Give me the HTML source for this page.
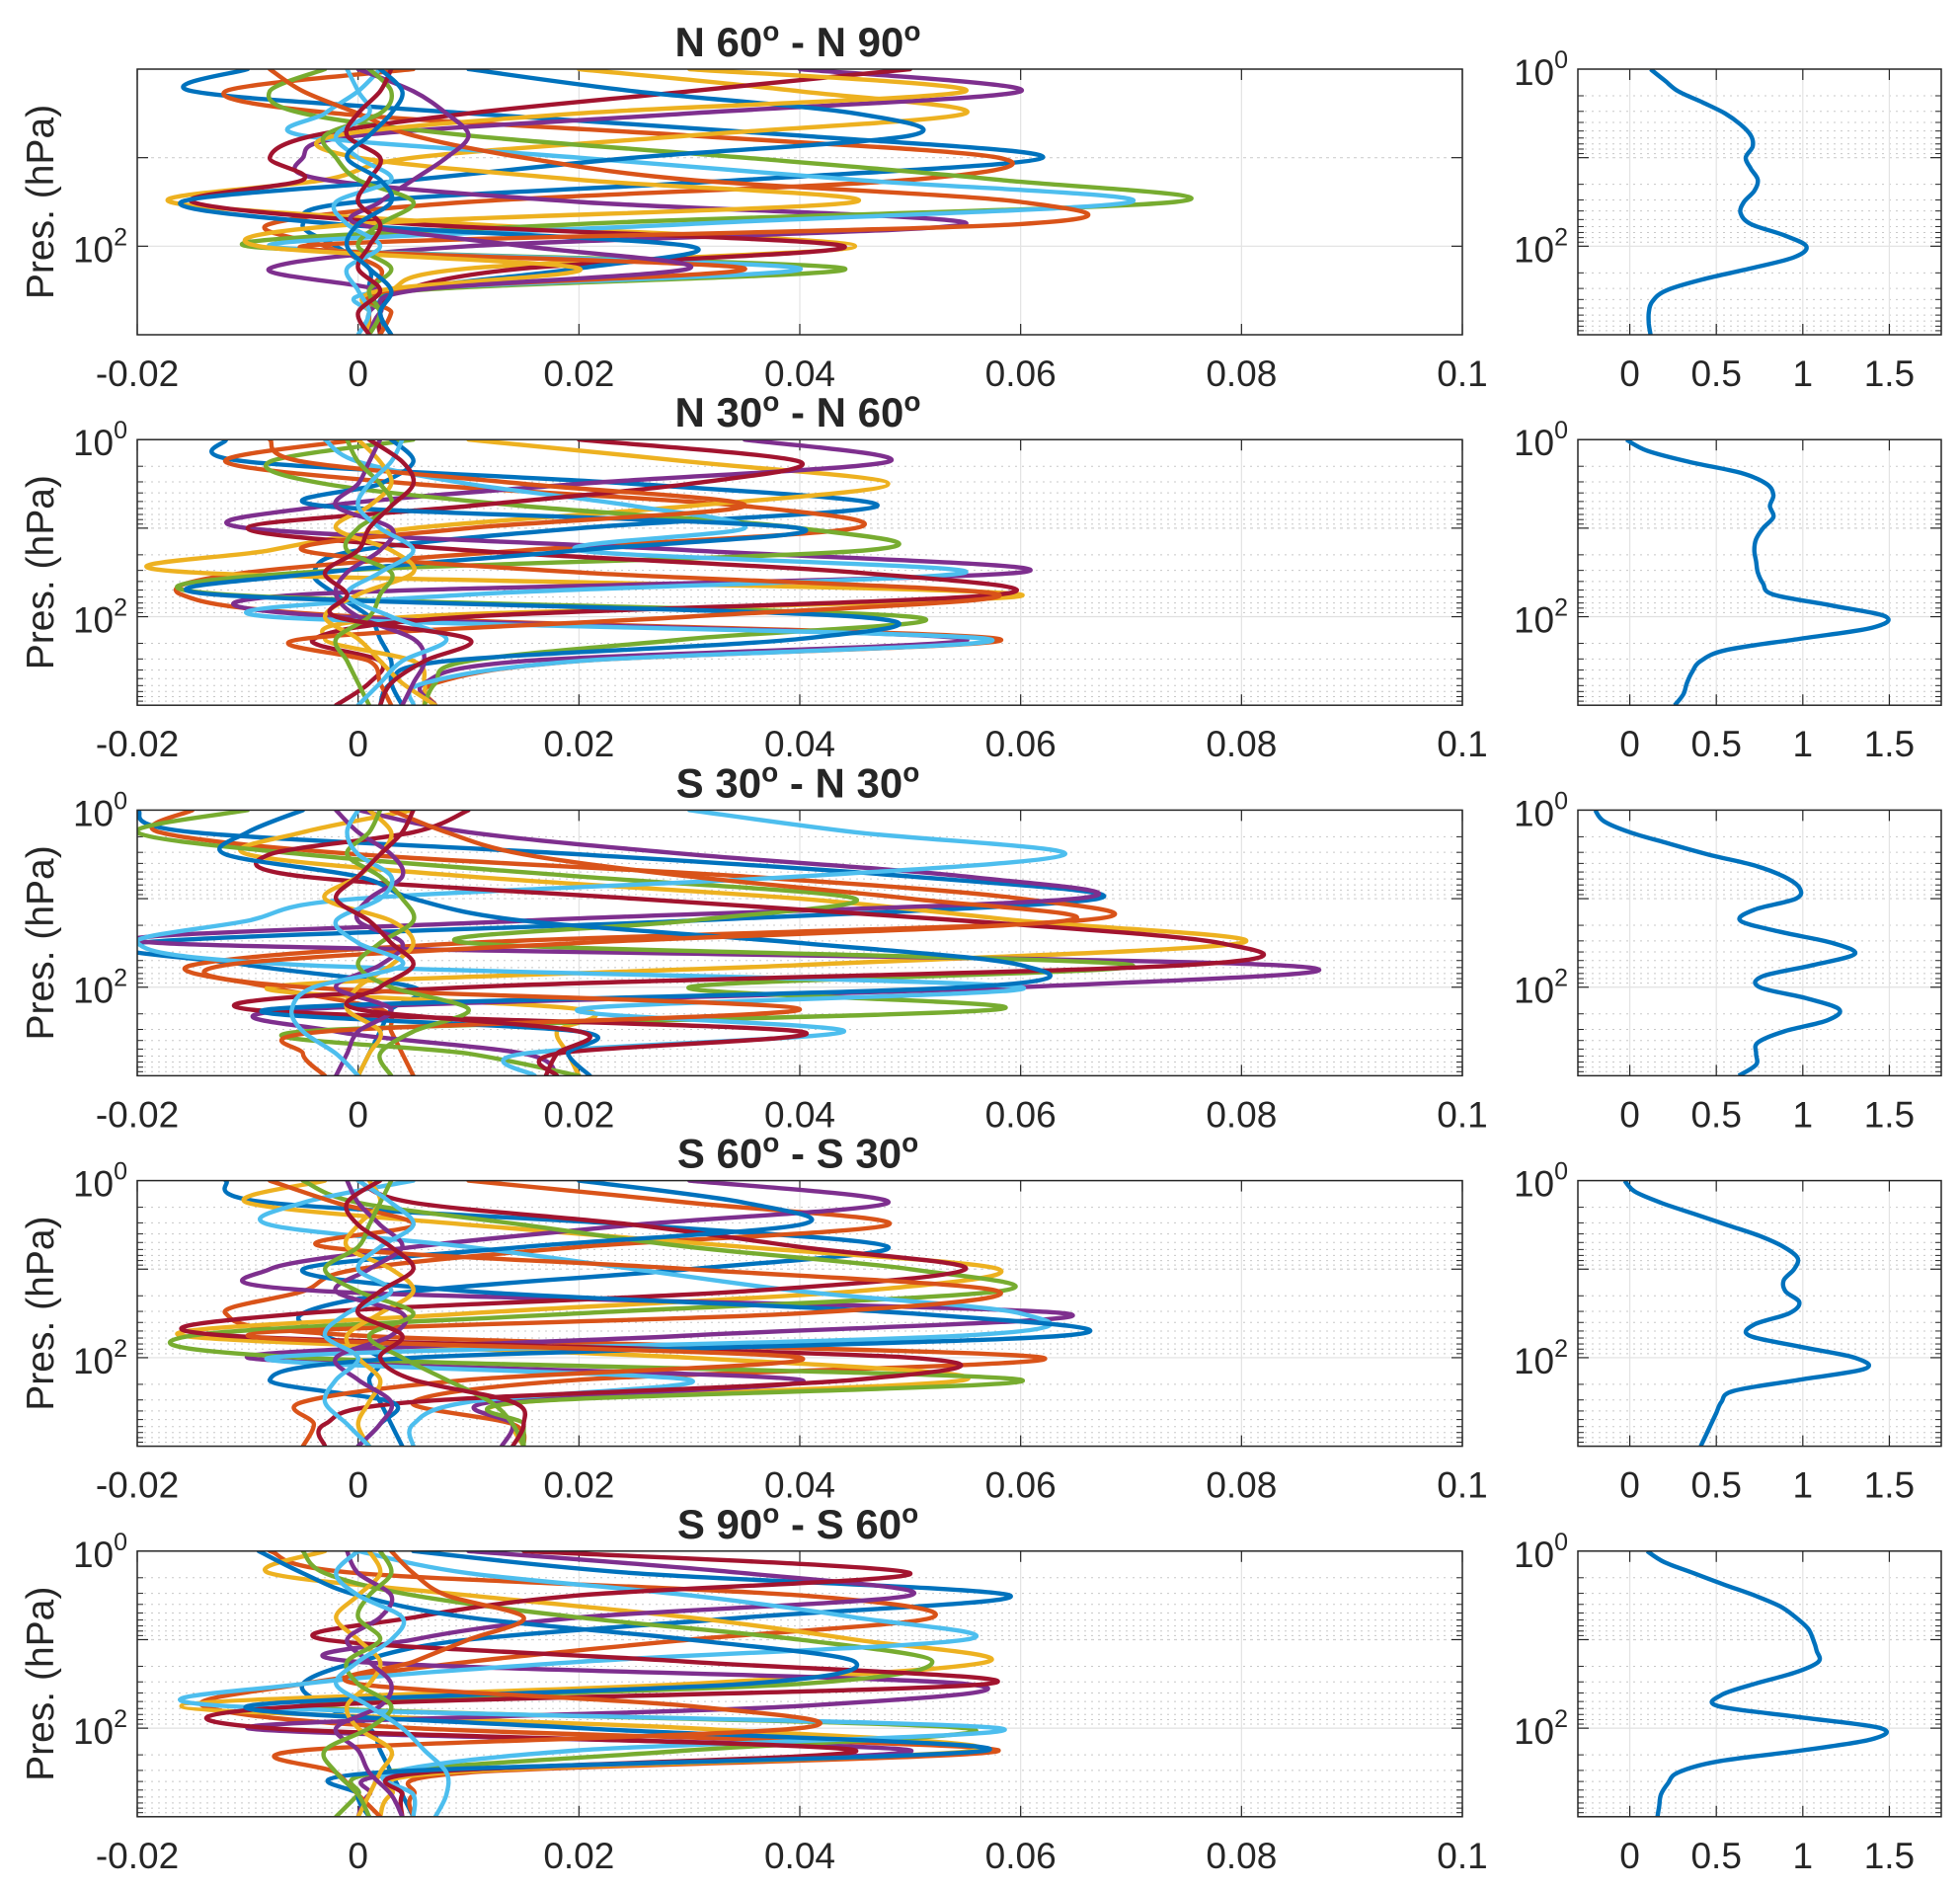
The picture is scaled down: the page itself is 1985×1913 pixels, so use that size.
<!DOCTYPE html>
<html><head><meta charset="utf-8"><title>Profiles</title>
<style>html,body{margin:0;padding:0;background:#fff}svg{display:block}text{font-family:"Liberation Sans",Arial,sans-serif;fill:#262626}</style>
</head><body>
<svg id="fig" width="1985" height="1913" viewBox="0 0 1985 1913" xmlns="http://www.w3.org/2000/svg"></svg>
<script>
// ---------- data ----------
const panelTitles=[["N 60","N 90"],["N 30","N 60"],["S 30","N 30"],["S 60","S 30"],["S 90","S 60"]];
const leftXTicks=[-0.02,0,0.02,0.04,0.06,0.08,0.1];
const leftXTickLabels=["-0.02","0","0.02","0.04","0.06","0.08","0.1"];
const rightXTicks=[0,0.5,1,1.5];
const rightXTickLabels=["0","0.5","1","1.5"];
// log10(pressure hPa) levels for left-panel profiles
const logPLeft=[0,0.25,0.5,0.75,1,1.25,1.5,1.75,2,2.25,2.5,2.75,3];
// profile values in units of 1e-3
const panel1Lines=[
[-10,-15,10,40,62,35,0,-5,-2,1,1,2,2],
[5,-12,-2,30,58,50,10,-8,-3,2,1,1,1],
[20,40,55,30,5,-3,-17,10,45,10,3,2,2],
[40,60,30,0,-5,-3,20,55,10,-8,2,1,1],
[-3,-8,-5,10,35,58,74,20,-10,44,5,2,2],
[2,0,-3,-5,20,45,70,30,-8,40,3,1,1],
[50,30,10,-4,-8,-5,-15,5,44,15,4,2,2],
[10,25,45,50,25,5,-16,-2,30,20,4,2,3],
[-8,-5,0,5,15,30,60,60,-5,35,3,3,2],
[30,55,20,-2,0,20,45,0,-9,20,2,1,1],
[0,5,8,10,8,5,2,0,15,30,5,2,1],
[1,3,2,-3,-2,0,5,2,0,3,1,2,1],
[-1,0,1,-2,0,3,-2,-1,2,-1,0,1,0],
[3,2,0,-1,2,1,0,2,1,0,2,0,1],
[2,4,3,1,-1,2,3,0,-1,1,3,2,3]];
const panel2Lines=[
[-12,-10,25,47,20,0,-4,-2,1,2,3,3,4],
[0,-12,5,35,45,15,-10,-16,0,58,20,7,7],
[10,30,48,30,5,-8,-15,60,5,-3,5,6,6],
[35,48,20,-3,-10,30,60,-5,-2,55,15,6,7],
[5,-8,-3,15,40,46,-5,-12,50,30,10,7,6],
[-3,0,10,25,35,20,55,10,-8,57,20,6,5],
[20,40,30,10,-10,10,45,58,10,-4,2,1,-2],
[3,5,2,-3,40,20,-3,-13,45,40,8,3,2],
[-8,-5,15,35,10,-5,20,58,30,-5,1,2,3],
[0,2,3,1,-2,3,5,0,-3,0,2,4,7],
[2,1,0,-2,3,2,-1,-2,0,5,6,5,4],
[-1,0,2,3,0,-1,3,2,1,-2,-1,0,1],
[4,3,1,0,2,5,2,-1,3,8,4,2,0],
[1,4,5,3,1,0,-3,-1,-2,10,6,3,2]];
const panel3Lines=[
[-20,-15,20,50,67,30,-20,-10,5,3,2,1,0],
[-15,-18,0,35,60,65,10,-15,-8,2,3,4,5],
[5,-5,-10,10,40,60,80,40,-8,20,18,19,20],
[0,10,30,55,65,15,-18,83,60,-5,-2,15,18],
[-10,-20,-5,20,45,30,10,70,30,58,-5,10,20],
[30,45,64,40,0,-10,-20,-5,60,20,44,15,16],
[10,5,-8,-5,25,55,78,75,10,-10,40,18,18],
[-5,-10,-12,0,5,15,40,60,55,-8,20,19,21],
[3,8,15,30,50,64,20,-12,-5,40,-3,-5,-3],
[1,3,2,0,-3,3,5,3,0,-1,2,1,0],
[-2,0,3,4,1,0,4,2,-2,3,0,-1,-2],
[2,1,-1,2,4,5,2,0,3,10,5,2,3],
[0,-1,0,3,2,-2,0,4,-4,-6,-5,-2,0],
[5,4,2,0,-2,1,3,5,2,0,20,18,17]];
const panel4Lines=[
[-12,-8,25,48,30,5,-5,-3,2,1,2,3,4],
[10,30,48,20,0,-5,-12,0,62,20,5,14,15],
[-3,-10,10,35,58,45,10,-16,30,55,15,14,15],
[30,48,25,5,-8,-3,64,30,-10,40,12,14,13],
[-5,0,15,30,50,58,20,-15,-5,60,15,15,15],
[5,-5,-8,10,25,40,60,55,-8,30,10,5,5],
[0,5,25,40,55,35,-5,-12,50,45,5,-3,-3],
[20,35,40,15,-5,10,50,64,5,-8,3,2,0],
[-8,-2,5,-3,30,58,40,-10,40,10,-5,-4,-5],
[1,2,0,-1,3,5,2,-1,0,2,1,0,1],
[-1,0,2,4,1,-2,4,3,-2,0,3,2,0],
[3,2,1,0,-3,0,5,1,4,8,12,14,15],
[0,3,5,2,0,3,-1,-3,0,-2,-3,-1,1],
[2,-1,0,3,5,2,0,4,2,5,14,15,14]];
const panel5Lines=[
[5,25,59,35,10,0,-5,-3,1,2,3,4,5],
[-8,0,40,52,30,10,-5,-14,5,58,10,5,5],
[-3,-8,10,30,45,57,30,-16,30,56,8,3,2],
[10,35,50,20,5,0,55,40,-10,50,5,1,0],
[-5,-3,5,20,40,52,40,-5,55,30,2,0,-2],
[0,10,30,45,55,20,-5,-12,58,20,3,5,5],
[15,50,20,5,-3,30,57,-5,-8,45,6,4,4],
[-9,-5,0,10,30,45,35,-10,20,57,2,0,1],
[3,5,8,15,10,5,0,30,40,-5,-2,0,2],
[1,2,0,-2,0,2,1,-1,0,3,2,1,0],
[-1,0,3,2,-1,1,3,2,-2,0,1,3,4],
[2,3,1,0,2,-1,0,3,1,-3,-2,0,1],
[0,-2,0,4,3,0,-2,1,4,6,8,8,7]];
// right panels: log10(p) levels and values
const logPRight=[0,0.125,0.25,0.375,0.5,0.625,0.75,0.875,1,1.125,1.25,1.375,1.5,1.625,1.75,1.875,2,2.125,2.25,2.375,2.5,2.625,2.75,2.875,3];
const right1=[0.12,0.2,0.28,0.42,0.55,0.64,0.7,0.71,0.67,0.7,0.74,0.72,0.66,0.64,0.7,0.89,1.02,0.95,0.7,0.42,0.21,0.13,0.11,0.11,0.12];
const right2=[-0.02,0.1,0.34,0.64,0.79,0.83,0.81,0.83,0.77,0.73,0.72,0.73,0.74,0.77,0.83,1.17,1.48,1.4,0.98,0.56,0.41,0.36,0.33,0.31,0.26];
const right3=[-0.2,-0.15,0.0,0.22,0.45,0.72,0.89,0.98,0.96,0.72,0.64,0.87,1.17,1.3,1.06,0.77,0.75,1.02,1.21,1.14,0.89,0.74,0.73,0.73,0.63];
const right4=[-0.03,0.03,0.18,0.37,0.56,0.75,0.89,0.97,0.95,0.89,0.9,0.98,0.92,0.72,0.69,0.98,1.3,1.36,0.98,0.6,0.53,0.5,0.47,0.44,0.41];
const right5=[0.1,0.2,0.37,0.54,0.72,0.87,0.96,1.03,1.06,1.08,1.09,0.95,0.72,0.53,0.51,0.98,1.45,1.4,1.0,0.51,0.28,0.22,0.18,0.17,0.16];
const leftData=[panel1Lines,panel2Lines,panel3Lines,panel4Lines,panel5Lines];
const rightData=[right1,right2,right3,right4,right5];
const colors=["#0072BD","#D95319","#EDB120","#7E2F8E","#77AC30","#4DBEEE","#A2142F"];

// ---------- drawing ----------
const NS="http://www.w3.org/2000/svg";
const svg=document.getElementById('fig');
function mk(tag,attrs,parent){const e=document.createElementNS(NS,tag);for(const k in attrs)e.setAttribute(k,attrs[k]);(parent||svg).appendChild(e);return e;}
const LX0=139,LX1=1481,RX0=1598,RX1=1966,PH=269,TOP0=70,STEP=375.2;
const lxScale=v=>LX0+(v+0.02)/0.12*(LX1-LX0);
const rxScale=v=>RX0+(v+0.3)/2.1*(RX1-RX0);
function yScale(top,lp){return top+lp/3*PH;}
const defs=mk('defs',{});

function drawAxes(i,side){
  const top=TOP0+i*STEP;
  const x0=side==='left'?LX0:RX0, x1=side==='left'?LX1:RX1;
  const g=mk('g',{});
  
  
  if(!(side==='left'&&i===0)){
    for(let d=0;d<3;d++)for(let m=2;m<=9;m++){
      const y=yScale(top,d+Math.log10(m));
      mk('line',{x1:x0,x2:x1,y1:y,y2:y,stroke:'#c8c8c8','stroke-width':1,'stroke-dasharray':'2,5'},g);
      mk('line',{x1:x0,x2:x0+6,y1:y,y2:y,stroke:'#262626','stroke-width':1},g);
      mk('line',{x1:x1,x2:x1-6,y1:y,y2:y,stroke:'#262626','stroke-width':1},g);
    }
  }
  for(let d=1;d<3;d++){
    const y=yScale(top,d);
    mk('line',{x1:x0,x2:x1,y1:y,y2:y,stroke:(d===2?'#e0e0e0':'#d0d0d0'),'stroke-width':1.2,'stroke-dasharray':(d===2?'':'3,4')},g);
    mk('line',{x1:x0,x2:x0+11,y1:y,y2:y,stroke:'#262626','stroke-width':1.2},g);
    mk('line',{x1:x1,x2:x1-11,y1:y,y2:y,stroke:'#262626','stroke-width':1.2},g);
  }
  const ticks=side==='left'?leftXTicks:rightXTicks, labs=side==='left'?leftXTickLabels:rightXTickLabels;
  const sc=side==='left'?lxScale:rxScale;
  ticks.forEach((t,k)=>{
    const x=sc(t);
    mk('line',{x1:x,x2:x,y1:top,y2:top+PH,stroke:'#e3e3e3','stroke-width':1.2},g);
    mk('line',{x1:x,x2:x,y1:top+PH,y2:top+PH-11,stroke:'#262626','stroke-width':1.2},g);
    mk('line',{x1:x,x2:x,y1:top,y2:top+11,stroke:'#262626','stroke-width':1.2},g);
    const tx=mk('text',{x:x,y:top+PH+52,'font-size':37,'text-anchor':'middle'},g);
    
    
    tx.textContent=labs[k];
  });
  const exps=(side==='left'&&i===0)?[2]:[0,2];
  exps.forEach(e=>{
    const y=yScale(top,e);
    const tx=mk('text',{x:x0-10,y:y+16,'font-size':37,'text-anchor':'end'},g);
    
    
    tx.innerHTML='10<tspan dy="-17" font-size="25">'+e+'</tspan>';
  });
  const cp=mk('clipPath',{id:'clip-'+side+i},defs);
  mk('rect',{x:x0,y:top,width:x1-x0,height:PH},cp);
  return {g,top,x0,x1};
}

function boxOf(a){
  const r=mk('rect',{x:a.x0,y:a.top,width:a.x1-a.x0,height:PH,fill:'none',stroke:'#262626','stroke-width':1.5});
  
  
}

function catmull(pts){
  let d='M'+pts[0][0].toFixed(1)+','+pts[0][1].toFixed(1);
  for(let i=0;i<pts.length-1;i++){
    const p0=pts[Math.max(0,i-1)],p1=pts[i],p2=pts[i+1],p3=pts[Math.min(pts.length-1,i+2)];
    const c1=[p1[0]+(p2[0]-p0[0])/6,p1[1]+(p2[1]-p0[1])/6];
    const c2=[p2[0]-(p3[0]-p1[0])/6,p2[1]-(p3[1]-p1[1])/6];
    d+=' C'+c1[0].toFixed(1)+','+c1[1].toFixed(1)+' '+c2[0].toFixed(1)+','+c2[1].toFixed(1)+' '+p2[0].toFixed(1)+','+p2[1].toFixed(1);
  }
  return d;
}

for(let i=0;i<5;i++){
  const la=drawAxes(i,'left');
  const lg=mk('g',{'clip-path':'url(#clip-left'+i+')'});
  
  
  leftData[i].forEach((vals,j)=>{
    const pts=vals.map((v,k)=>[lxScale(v/1000),yScale(la.top,logPLeft[k])]);
    const p=mk('path',{d:catmull(pts),fill:'none',stroke:colors[j%7],'stroke-width':4.4,'stroke-linejoin':'round','stroke-linecap':'round'},lg);
    
    
  });
  boxOf(la);
  const ra=drawAxes(i,'right');
  const rg=mk('g',{'clip-path':'url(#clip-right'+i+')'});
  const rpts=rightData[i].map((v,k)=>[rxScale(v),yScale(ra.top,logPRight[k])]);
  const rp=mk('path',{d:catmull(rpts),fill:'none',stroke:'#0072BD','stroke-width':4.4,'stroke-linejoin':'round'},rg);
  
  
  boxOf(ra);
  const t=mk('text',{x:808,y:la.top-13,'font-size':42,'font-weight':'bold','text-anchor':'middle'});
  
  
  t.innerHTML=panelTitles[i][0]+'<tspan dy="-16" font-size="28">o</tspan><tspan dy="16"> - '+panelTitles[i][1]+'</tspan><tspan dy="-16" font-size="28">o</tspan>';
  const yl=mk('text',{x:0,y:0,'font-size':39,'text-anchor':'middle',transform:'translate(54,'+(la.top+PH/2)+') rotate(-90)'});
  
  
  yl.textContent='Pres. (hPa)';
}
</script>
</body></html>
